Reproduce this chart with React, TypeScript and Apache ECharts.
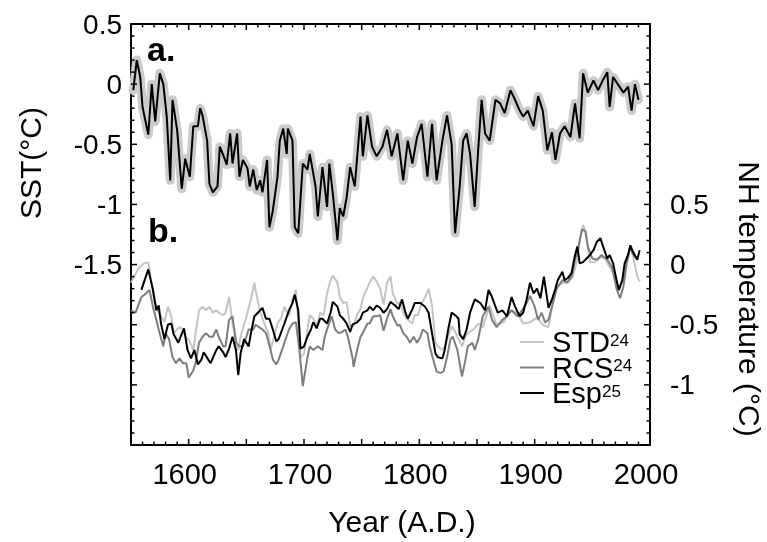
import React, { useEffect, useRef } from "react";
import * as echarts from "echarts";

// ---- Panel a: SST reconstruction (left axis) ----
const sstYears = [1552,1555,1558,1560,1565,1568,1571,1575,1578,1581,1584,1586,1590,1594,1597,1601,1604,1608,1610,1612,1616,1618,1621,1625,1627,1630,1633,1636,1638,1642,1644,1647,1651,1653,1656,1659,1662,1664,1668,1670,1673,1677,1679,1682,1685,1686,1690,1692,1695,1699,1703,1705,1710,1712,1716,1720,1722,1725,1729,1731,1734,1737,1740,1744,1749,1751,1755,1759,1763,1768,1772,1776,1781,1786,1790,1794,1798,1802,1807,1811,1815,1820,1824,1828,1831,1835,1838,1841,1844,1848,1851,1854,1857,1861,1866,1870,1874,1879,1883,1887,1890,1894,1899,1903,1907,1911,1915,1918,1922,1926,1931,1935,1939,1942,1946,1951,1955,1959,1963,1965,1968,1972,1977,1981,1984,1987,1990];
const sstValues = [-0.05,0.2,0.06,-0.19,-0.42,0.0,-0.31,0.09,0.0,-0.27,-0.8,-0.13,-0.38,-0.87,-0.62,-0.77,-0.35,-0.35,-0.2,-0.26,-0.47,-0.83,-0.9,-0.85,-0.52,-0.59,-0.67,-0.41,-0.66,-0.41,-0.77,-0.63,-0.7,-0.85,-0.71,-0.88,-0.8,-0.9,-0.63,-1.19,-1.05,-0.77,-0.47,-0.37,-0.58,-0.37,-0.47,-1.19,-1.24,-0.66,-0.71,-0.58,-0.85,-1.1,-0.69,-1.02,-0.66,-0.91,-1.3,-1.03,-1.1,-0.94,-0.69,-0.85,-0.27,-0.6,-0.26,-0.52,-0.6,-0.52,-0.38,-0.6,-0.41,-0.8,-0.47,-0.66,-0.44,-0.33,-0.77,-0.33,-0.8,-0.47,-0.26,-0.5,-1.24,-0.85,-0.47,-0.41,-0.58,-1.02,-0.55,-0.13,-0.41,-0.47,-0.13,-0.16,-0.24,-0.05,-0.13,-0.22,-0.27,-0.22,-0.35,-0.1,-0.22,-0.55,-0.4,-0.63,-0.41,-0.35,-0.44,-0.16,-0.45,0.09,-0.07,0.03,-0.05,0.03,0.1,-0.19,0.06,0.0,-0.07,-0.02,-0.22,0.0,-0.13];

// ---- Panel b: NH temperature reconstructions (right axis) ----
const stdYears = [1550,1556,1561,1565,1567,1570,1573,1576,1579,1582,1585,1587,1592,1595,1598,1600,1604,1606,1609,1612,1615,1618,1621,1624,1626,1630,1632,1635,1638,1643,1645,1648,1651,1654,1657,1658,1661,1664,1669,1671,1674,1677,1680,1683,1687,1690,1693,1697,1700,1703,1705,1708,1711,1714,1717,1720,1723,1725,1729,1731,1734,1737,1740,1743,1746,1749,1751,1755,1757,1760,1763,1766,1769,1772,1775,1777,1781,1783,1786,1789,1794,1796,1799,1802,1805,1808,1811,1814,1816,1820,1822,1825,1828,1831,1834,1837,1840,1842,1847,1851,1855,1861,1867,1873,1879,1885,1890,1896,1902,1907,1912,1916,1920,1925,1929,1933,1937,1939,1942,1945,1948,1952,1957,1961,1965,1970,1973,1977,1980,1983,1985,1989,1991];
const stdValues = [-0.15,-0.04,0.01,0.02,-0.1,-0.29,-0.38,-0.43,-0.48,-0.35,-0.43,-0.57,-0.52,-0.54,-0.62,-0.62,-0.71,-0.57,-0.38,-0.35,-0.38,-0.35,-0.4,-0.38,-0.4,-0.42,-0.4,-0.27,-0.48,-0.71,-0.6,-0.5,-0.4,-0.29,-0.15,-0.21,-0.35,-0.45,-0.57,-0.71,-0.6,-0.49,-0.45,-0.35,-0.43,-0.29,-0.21,-0.77,-0.74,-0.54,-0.42,-0.45,-0.51,-0.4,-0.42,-0.24,-0.13,-0.09,-0.15,-0.27,-0.32,-0.31,-0.51,-0.51,-0.42,-0.37,-0.28,-0.19,-0.15,-0.1,-0.14,-0.2,-0.33,-0.15,-0.1,-0.24,-0.33,-0.31,-0.4,-0.45,-0.49,-0.42,-0.42,-0.32,-0.27,-0.2,-0.34,-0.65,-0.68,-0.71,-0.68,-0.6,-0.51,-0.56,-0.62,-0.68,-0.6,-0.57,-0.54,-0.49,-0.52,-0.34,-0.5,-0.48,-0.38,-0.4,-0.49,-0.48,-0.44,-0.5,-0.52,-0.3,-0.18,-0.15,-0.15,-0.1,0.04,0.2,0.33,0.23,0.02,0.02,0.06,0.05,-0.02,-0.1,-0.22,-0.1,0.05,0.16,0.08,-0.1,-0.14];

const rcsYears = [1550,1554,1559,1563,1566,1569,1572,1574,1578,1580,1583,1586,1589,1592,1595,1598,1600,1604,1606,1609,1612,1615,1618,1621,1624,1626,1630,1632,1635,1638,1641,1644,1647,1650,1652,1656,1658,1661,1664,1667,1670,1673,1676,1678,1682,1684,1687,1690,1693,1696,1699,1703,1705,1708,1712,1716,1718,1721,1724,1727,1730,1733,1736,1738,1742,1743,1746,1749,1751,1755,1757,1760,1763,1766,1769,1772,1775,1777,1781,1783,1786,1789,1792,1795,1798,1801,1803,1807,1809,1812,1815,1818,1821,1824,1827,1829,1833,1835,1837,1840,1842,1846,1848,1851,1855,1860,1863,1867,1872,1876,1880,1885,1889,1893,1896,1900,1903,1906,1909,1912,1915,1919,1924,1928,1932,1935,1938,1941,1944,1946,1950,1954,1958,1963,1967,1971,1974,1977,1980,1983,1985,1989];
const rcsValues = [-0.38,-0.4,-0.27,-0.24,-0.21,-0.35,-0.46,-0.54,-0.68,-0.57,-0.62,-0.77,-0.82,-0.78,-0.82,-0.82,-0.94,-0.88,-0.82,-0.65,-0.6,-0.57,-0.6,-0.6,-0.54,-0.6,-0.68,-0.68,-0.46,-0.43,-0.65,-0.68,-0.68,-0.6,-0.54,-0.54,-0.5,-0.52,-0.54,-0.57,-0.67,-0.79,-0.83,-0.79,-0.68,-0.62,-0.54,-0.49,-0.48,-0.71,-1.01,-0.77,-0.68,-0.71,-0.68,-0.71,-0.6,-0.51,-0.43,-0.54,-0.57,-0.56,-0.54,-0.6,-0.77,-0.85,-0.71,-0.6,-0.57,-0.49,-0.49,-0.43,-0.43,-0.42,-0.55,-0.45,-0.37,-0.43,-0.51,-0.5,-0.57,-0.6,-0.65,-0.6,-0.65,-0.6,-0.54,-0.57,-0.68,-0.79,-0.89,-0.9,-0.89,-0.77,-0.62,-0.6,-0.71,-0.82,-0.93,-0.79,-0.68,-0.65,-0.71,-0.62,-0.43,-0.35,-0.46,-0.52,-0.46,-0.43,-0.38,-0.43,-0.38,-0.32,-0.26,-0.35,-0.46,-0.4,-0.48,-0.46,-0.35,-0.2,-0.13,-0.15,-0.1,0.04,0.15,0.29,0.28,0.15,0.05,0.04,0.08,0.04,-0.02,-0.2,-0.28,-0.18,0.02,0.15,0.09,0.04];

const espYears = [1559,1565,1569,1572,1574,1576,1579,1582,1585,1587,1591,1593,1596,1599,1602,1605,1608,1611,1613,1617,1619,1624,1626,1630,1632,1635,1638,1641,1643,1645,1648,1652,1654,1657,1660,1664,1667,1670,1673,1676,1678,1683,1687,1690,1692,1695,1697,1700,1703,1706,1708,1711,1714,1716,1720,1723,1725,1729,1731,1734,1737,1740,1742,1746,1749,1751,1755,1757,1760,1763,1766,1769,1772,1775,1779,1782,1785,1788,1790,1794,1796,1801,1805,1808,1811,1814,1816,1820,1822,1825,1828,1831,1834,1835,1838,1841,1844,1848,1853,1857,1860,1863,1866,1868,1872,1876,1880,1883,1887,1890,1893,1896,1899,1902,1905,1908,1912,1915,1918,1920,1924,1926,1929,1932,1935,1937,1939,1942,1945,1948,1951,1954,1957,1959,1963,1965,1968,1971,1973,1976,1978,1981,1983,1985,1989,1991];
const espValues = [-0.21,-0.04,-0.21,-0.38,-0.34,-0.49,-0.62,-0.5,-0.49,-0.58,-0.65,-0.6,-0.53,-0.71,-0.78,-0.71,-0.83,-0.79,-0.73,-0.79,-0.82,-0.71,-0.68,-0.73,-0.77,-0.7,-0.6,-0.71,-0.92,-0.74,-0.62,-0.68,-0.57,-0.43,-0.4,-0.36,-0.45,-0.45,-0.54,-0.64,-0.62,-0.49,-0.38,-0.32,-0.25,-0.38,-0.7,-0.68,-0.6,-0.54,-0.48,-0.53,-0.45,-0.45,-0.49,-0.4,-0.31,-0.35,-0.42,-0.45,-0.49,-0.56,-0.5,-0.48,-0.45,-0.4,-0.38,-0.35,-0.38,-0.34,-0.36,-0.4,-0.37,-0.31,-0.34,-0.37,-0.29,-0.4,-0.45,-0.37,-0.32,-0.32,-0.35,-0.4,-0.57,-0.74,-0.77,-0.78,-0.71,-0.54,-0.4,-0.42,-0.45,-0.58,-0.62,-0.54,-0.4,-0.29,-0.32,-0.38,-0.21,-0.27,-0.35,-0.4,-0.38,-0.43,-0.27,-0.35,-0.43,-0.4,-0.29,-0.15,-0.24,-0.2,-0.28,-0.1,-0.36,-0.29,-0.2,-0.13,-0.06,-0.13,-0.11,-0.07,0.08,0.15,0.01,0.02,0.05,0.08,0.12,0.19,0.22,0.16,0.05,0.08,0.01,-0.13,-0.21,-0.13,0.01,0.08,0.16,0.11,0.04,0.12];

// ---- Axes & legend texts ----
const X_MIN = 1550, X_MAX = 2000;
const YL_MIN = -3, YL_MAX = 0.5;
const YR_MIN = -1.5, YR_MAX = 2;
const xLabelYears = [1600, 1700, 1800, 1900, 2000];
const leftTickLabels = [0.5, 0, -0.5, -1, -1.5];
const rightTickLabels = [0.5, 0, -0.5, -1];
const legendNames = ["STD", "RCS", "Esp"];
const legendRefs = ["24", "24", "25"];

const FONT = "'Liberation Sans', Arial, Helvetica, sans-serif";
const C_STD = "#c4c4c4";
const C_RCS = "#7e7e7e";
const C_ESP = "#000000";
const legendColors = [C_STD, C_RCS, C_ESP];

const zip = (xs: number[], ys: number[]) => xs.map((x, i) => [x, ys[i]]);
const near = (list: number[], v: number) => list.some((t) => Math.abs(t - v) < 1e-6);

// tick values along the axes (minor every 10 yr / 0.1 °C, major every 50 yr / 0.5 °C)
const xTickVals: number[][] = [];
for (let i = 0; i <= (X_MAX - X_MIN) / 10; i++) xTickVals.push([X_MIN + i * 10, i % 5 === 0 ? 1 : 0]);
const ylTickVals: number[][] = [];
for (let i = 0; i <= Math.round((YL_MAX - YL_MIN) * 10); i++) ylTickVals.push([YL_MIN + i / 10, i % 5 === 0 ? 1 : 0]);
const yrTickVals: number[][] = [];
for (let i = 0; i <= Math.round((YR_MAX - YR_MIN) * 10); i++) yrTickVals.push([YR_MIN + i / 10, i % 5 === 0 ? 1 : 0]);

const axisLine = () => ({ show: true, onZero: false, lineStyle: { color: "#000", width: 2 } });

export default function App() {
  const ref = useRef<HTMLDivElement>(null);

  useEffect(() => {
    if (!ref.current) return;
    const chart = echarts.init(ref.current, undefined, { renderer: "svg" });

    chart.setOption({
      animation: false,
      grid: { left: 131, top: 24, width: 519, height: 421 },
      xAxis: [
        {
          type: "value",
          position: "bottom",
          min: X_MIN,
          max: X_MAX,
          interval: 50,
          axisLine: axisLine(),
          axisTick: { show: false },
          splitLine: { show: false },
          axisLabel: {
            color: "#000",
            fontSize: 29,
            fontFamily: FONT,
            margin: 14,
            padding: [0, 8, 0, 0],
            formatter: (v: number) => (near(xLabelYears, v) ? String(v) : ""),
          },
        },
        {
          type: "value",
          position: "top",
          min: X_MIN,
          max: X_MAX,
          interval: 50,
          axisLine: axisLine(),
          axisTick: { show: false },
          splitLine: { show: false },
          axisLabel: { show: false },
        },
      ],
      yAxis: [
        {
          type: "value",
          position: "left",
          min: YL_MIN,
          max: YL_MAX,
          interval: 0.5,
          axisLine: axisLine(),
          axisTick: { show: false },
          splitLine: { show: false },
          axisLabel: {
            color: "#000",
            fontSize: 28,
            fontFamily: FONT,
            margin: 9,
            formatter: (v: number) => (near(leftTickLabels, v) ? String(Math.round(v * 10) / 10) : ""),
          },
        },
        {
          type: "value",
          position: "right",
          min: YR_MIN,
          max: YR_MAX,
          interval: 0.5,
          axisLine: axisLine(),
          axisTick: { show: false },
          splitLine: { show: false },
          axisLabel: {
            color: "#000",
            fontSize: 28,
            fontFamily: FONT,
            margin: 20,
            formatter: (v: number) => (near(rightTickLabels, v) ? String(Math.round(v * 10) / 10) : ""),
          },
        },
      ],
      series: [
        {
          name: "SST band",
          type: "line",
          xAxisIndex: 0,
          yAxisIndex: 0,
          data: zip(sstYears, sstValues),
          symbol: "none",
          z: 1,
          lineStyle: { color: "#cbcbcb", width: 9, join: "round", cap: "round" },
        },
        {
          name: "SST",
          type: "line",
          xAxisIndex: 0,
          yAxisIndex: 0,
          data: zip(sstYears, sstValues),
          symbol: "none",
          z: 3,
          lineStyle: { color: "#000", width: 2 },
        },
        {
          name: "STD",
          type: "line",
          xAxisIndex: 0,
          yAxisIndex: 1,
          data: zip(stdYears, stdValues),
          symbol: "none",
          z: 2,
          lineStyle: { color: C_STD, width: 2 },
        },
        {
          name: "RCS",
          type: "line",
          xAxisIndex: 0,
          yAxisIndex: 1,
          data: zip(rcsYears, rcsValues),
          symbol: "none",
          z: 3,
          lineStyle: { color: C_RCS, width: 2 },
        },
        {
          name: "Esp",
          type: "line",
          xAxisIndex: 0,
          yAxisIndex: 1,
          data: zip(espYears, espValues),
          symbol: "none",
          z: 4,
          lineStyle: { color: C_ESP, width: 2 },
        },
      ],
    });

    // Inward ticks on all four edges, placed through the chart's own scales.
    const leftFinder = { xAxisIndex: 0, yAxisIndex: 0 };
    const rightFinder = { xAxisIndex: 0, yAxisIndex: 1 };
    const seg = (x1: number, y1: number, x2: number, y2: number, color = "#000", w = 1.5) => ({
      type: "line",
      silent: true,
      z: 100,
      shape: { x1, y1, x2, y2 },
      style: { stroke: color, lineWidth: w },
    });
    const els: any[] = [];
    xTickVals.forEach(([yr, major]) => {
      const len = major ? 6 : 3.5;
      const b = chart.convertToPixel(leftFinder, [yr, YL_MIN]) as number[];
      const t = chart.convertToPixel(leftFinder, [yr, YL_MAX]) as number[];
      if (b) els.push(seg(b[0], b[1], b[0], b[1] - len));
      if (t) els.push(seg(t[0], t[1], t[0], t[1] + len));
    });
    ylTickVals.forEach(([v, major]) => {
      const len = major ? 6 : 3.5;
      const p = chart.convertToPixel(leftFinder, [X_MIN, v]) as number[];
      if (p) els.push(seg(p[0], p[1], p[0] + len, p[1]));
    });
    yrTickVals.forEach(([v, major]) => {
      const len = major ? 6 : 3.5;
      const p = chart.convertToPixel(rightFinder, [X_MAX, v]) as number[];
      if (p) els.push(seg(p[0], p[1], p[0] - len, p[1]));
    });

    // Legend (line key + name with superscript reference number)
    const legendRowY = [342, 367.5, 393];
    legendNames.forEach((name, i) => {
      els.push(seg(520, legendRowY[i], 544, legendRowY[i], legendColors[i], 2));
      els.push({
        type: "text",
        x: 552,
        y: legendRowY[i],
        z: 110,
        style: {
          text: `{n|${name}}{s|${legendRefs[i]}}`,
          align: "left",
          verticalAlign: "middle",
          fill: "#000",
          rich: {
            n: { fontSize: 29, lineHeight: 25, fontFamily: FONT, fill: "#000" },
            s: { fontSize: 17, lineHeight: 17, verticalAlign: "top", padding: [2, 0, 0, 0], fontFamily: FONT, fill: "#000" },
          },
        },
      });
    });

    chart.setOption({
      graphic: [
        ...els,
        {
          type: "text",
          left: 147,
          top: 32,
          z: 110,
          style: { text: "a.", font: `bold 34px ${FONT}`, fill: "#000" },
        },
        {
          type: "text",
          left: 148,
          top: 213,
          z: 110,
          style: { text: "b.", font: `bold 34px ${FONT}`, fill: "#000" },
        },
        {
          type: "text",
          x: 30,
          y: 163,
          rotation: Math.PI / 2,
          style: { text: "SST(°C)", font: `30px ${FONT}`, fill: "#000", align: "center", verticalAlign: "middle" },
        },
        {
          type: "text",
          x: 749,
          y: 299,
          rotation: -Math.PI / 2,
          style: { text: "NH temperature (°C)", font: `30px ${FONT}`, fill: "#000", align: "center", verticalAlign: "middle" },
        },
        {
          type: "text",
          x: 402,
          y: 521,
          style: { text: "Year (A.D.)", font: `30px ${FONT}`, fill: "#000", align: "center", verticalAlign: "middle" },
        },
      ],
    });

    return () => chart.dispose();
  }, []);

  return <div ref={ref} style={{ position: "fixed", left: 0, top: 0, width: 767, height: 542 }} />;
}
